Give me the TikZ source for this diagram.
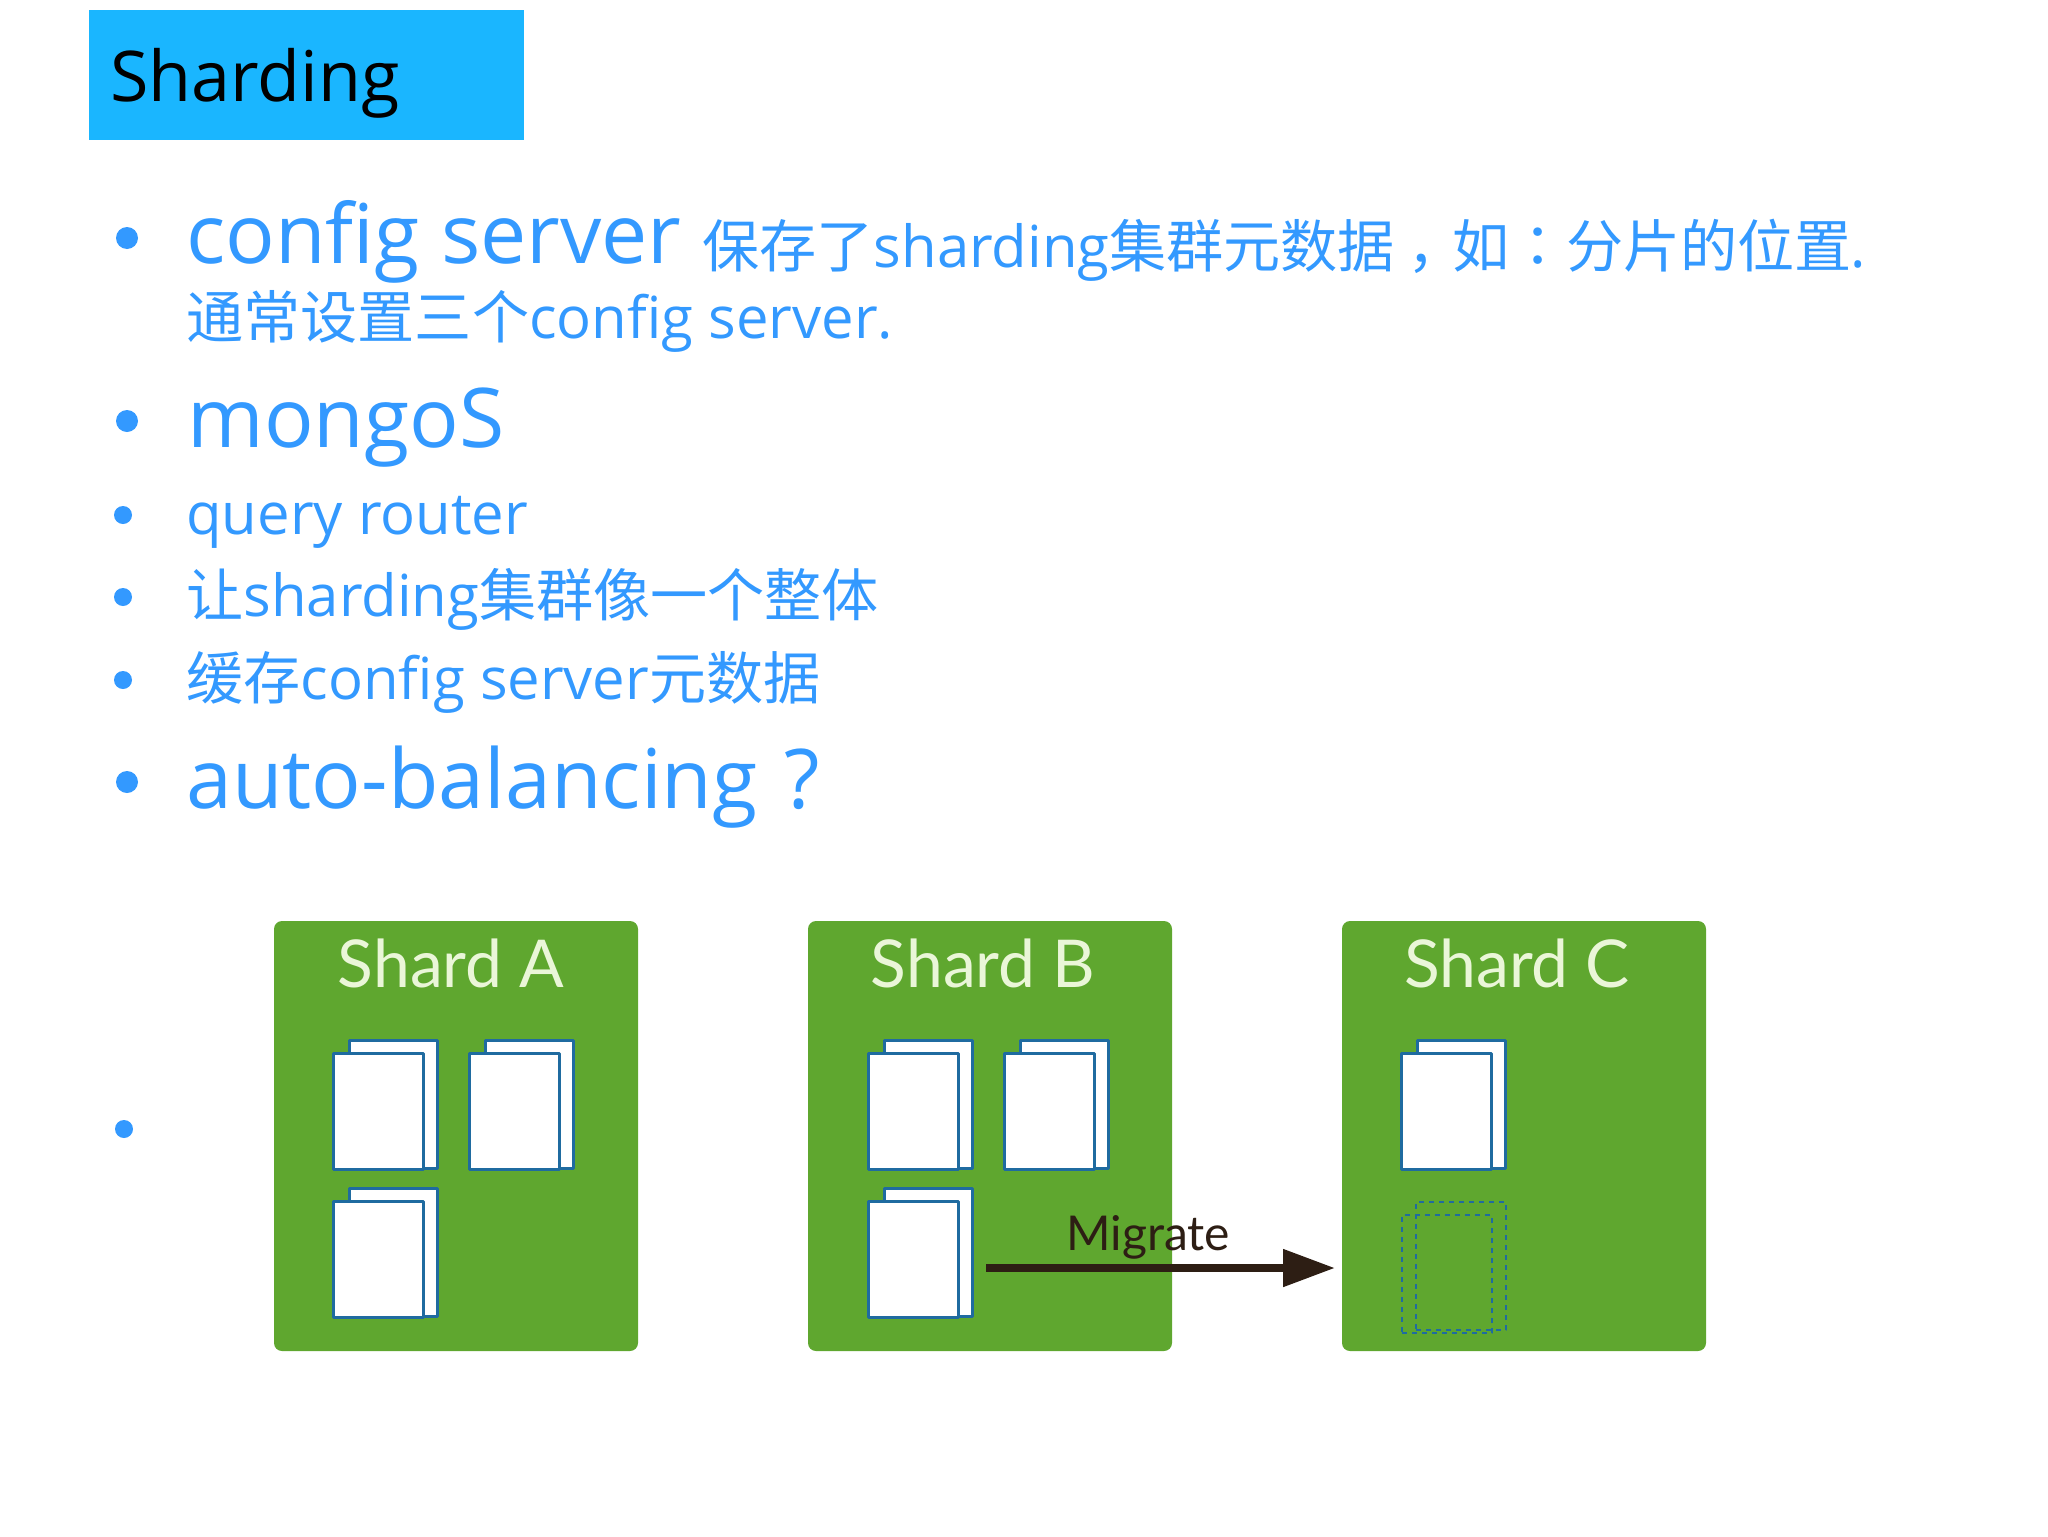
\documentclass[tikz,border=0pt]{standalone}
\usepackage{fontspec}
\setmainfont{Open Sans}
\newfontfamily\cjk[Scale=0.985]{Noto Sans CJK SC}
\newfontfamily\cjktc[Scale=0.985]{Noto Sans CJK TC}
\newfontfamily\gillish{Lato}
\usetikzlibrary{arrows.meta}
\definecolor{titlebg}{HTML}{1AB6FF}
\definecolor{bodyblue}{HTML}{3399FF}
\definecolor{shardgreen}{HTML}{5FA72F}
\definecolor{pageline}{HTML}{1F6BA0}
\definecolor{labelgreen}{HTML}{EAF6D8}
\definecolor{migratebrown}{HTML}{2D1E14}
\newcommand{\zh}[1]{{\cjk #1}}
\tikzset{
	bigtext/.style={anchor=base west, inner sep=0, text=bodyblue, font=\fontsize{41.2}{50}\selectfont},
	smalltext/.style={anchor=base west, inner sep=0, text=bodyblue, font=\fontsize{29}{34}\selectfont},
	shardbox/.style={fill=shardgreen, rounded corners=4pt, minimum width=182pt, minimum height=215pt, inner sep=0},
	shardlabel/.style={anchor=base, inner sep=0, text=labelgreen, font=\gillish\fontsize{33}{40}\selectfont},
	pagefront/.style={draw=pageline, fill=white, line width=1.5pt, minimum width=45pt, minimum height=58pt, inner sep=0},
	pageback/.style={draw=pageline, fill=white, line width=1.5pt, minimum width=44pt, minimum height=64pt, inner sep=0},
	pageghost/.style={draw=pageline, dash pattern=on 2.5pt off 2.5pt, line width=1.4pt, minimum width=45pt, inner sep=0}
}
\begin{document}
\begin{tikzpicture}[x=0.5pt, y=-0.5pt, line join=round]
	\useasboundingbox (0,0) rectangle (2048,1536);
	% title
	\node[fill=titlebg, minimum width=217.5pt, minimum height=65pt, inner sep=0] (titlebar) at (306.5,75) {};
	\node[anchor=base west, inner sep=0, font=\fontsize{35}{44}\selectfont] (title) at (110,102) {Sharding};
	% bullets
	\foreach \id/\x/\y/\r in {ba/127/238/11, bb/127/421/11, bc/123/515/9, bd/123/597/9, be/123/680/9, bf/127/782/11, bg/124/1129/9}
		\node[circle, fill=bodyblue, minimum size=\r pt, inner sep=0] (\id) at (\x,\y) {};
	% text lines
	\node[bigtext] (configserver) at (186,263) {config server};
	\node[smalltext] (configdesc) at (702,267) {\zh{保存了}sharding\zh{集群元数据{\hspace{0.22em}，\hspace{-0.22em}}如}{\cjktc ：}\zh{分片的位置}\hspace{-1pt}.};
	\node[smalltext] (configcount) at (186,338) {\zh{通常设置三个}config server.};
	\node[bigtext] (mongos) at (187,447) {mongoS};
	\node[smalltext] (router) at (186,534) {query router};
	\node[smalltext] (whole) at (186,616) {\zh{让}sharding\zh{集群像一个整体}};
	\node[smalltext] (cache) at (186,699) {\zh{缓存}config server\zh{元数据}};
	\node[bigtext] (balancing) at (186,808) {auto-balancing\hspace{3pt} ?};
	% shards
	\foreach \id/\x/\lx/\lab in {shardA/456/451/Shard A, shardB/990/983/Shard B, shardC/1524/1517/Shard C} {
		\node[shardbox] (\id) at (\x,1136) {};
		\node[shardlabel] (\id label) at (\lx,987) {\lab};
	}
	% pages
	\foreach \id/\x/\y in {aa/378/1111, ab/514/1111, ac/378/1259, ba/913/1111, bb/1049/1111, bc/913/1259, ca/1446/1111} {
		\node[pageback] (\id back) at ({\x+15},{\y-7}) {};
		\node[pagefront] (\id front) at (\x,\y) {};
	}
	% page still to arrive
	\node[pageghost, minimum height=64pt] (ghostback) at (1461,1266) {};
	\node[pageghost, minimum height=59pt] (ghostfront) at (1447,1274) {};
	% migration
	\coordinate (migstart) at (986,1268);
	\coordinate (migend) at (1335,1268);
	\draw[migratebrown, line width=4pt, -{Triangle[length=26pt,width=18pt]}] (migstart)--(migend);
	\node[anchor=base west, inner sep=0, text=migratebrown, font=\gillish\fontsize{24}{30}\selectfont] (migrate) at (1066,1250) {Migrate};
\end{tikzpicture}
\end{document}
